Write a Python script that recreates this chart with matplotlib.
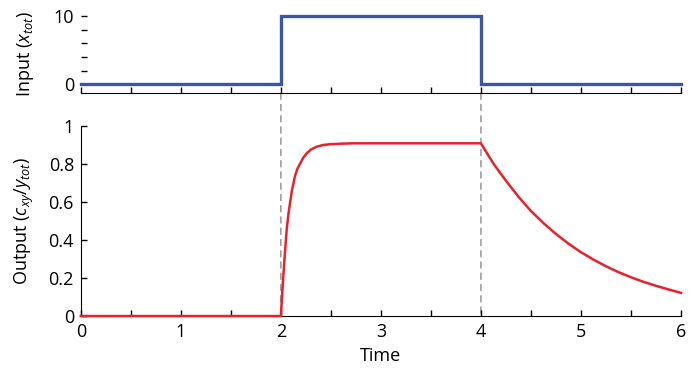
import matplotlib.pyplot as plt
from matplotlib.patches import ConnectionPatch
import numpy as np

plt.rcParams['font.family'] = ['Open Sans', 'DejaVu Sans']
plt.rcParams['font.size'] = 13
plt.rcParams['mathtext.fontset'] = 'custom'
plt.rcParams['mathtext.rm'] = 'Open Sans'
plt.rcParams['mathtext.it'] = 'Open Sans:italic'

# input step (x_tot)
input_t = [0, 2, 2, 4, 4, 6]
input_x = [0, 0, 10, 10, 0, 0]

# output c_xy / y_tot
out_t = [0, 2.0, 2.01, 2.023, 2.04, 2.057, 2.075, 2.09, 2.11, 2.14, 2.165,
         2.19, 2.22, 2.257, 2.3, 2.357, 2.42, 2.49, 2.6, 2.72, 4.0,
         4.125, 4.25, 4.375, 4.5, 4.625, 4.75, 4.875, 5.0, 5.125, 5.25,
         5.375, 5.5, 5.625, 5.75, 5.875, 6.0]
out_c = [0, 0, 0.09, 0.2, 0.33, 0.45, 0.535, 0.59, 0.66, 0.735, 0.775,
         0.80, 0.83, 0.856, 0.876, 0.891, 0.90, 0.904, 0.907, 0.909, 0.909,
         0.802, 0.712, 0.628, 0.553, 0.489, 0.432, 0.381, 0.336, 0.297, 0.262,
         0.231, 0.204, 0.180, 0.159, 0.140, 0.122]

switch_times = [2, 4]

blue = '#3a56a5'
red = '#e8212b'

fig = plt.figure(figsize=(6.91, 3.74), dpi=100)
ax1 = fig.add_axes([0.117, 0.751, 0.8685, 0.206])
ax2 = fig.add_axes([0.117, 0.155, 0.8685, 0.508])

for ax in (ax1, ax2):
    ax.set_facecolor('none')
    ax.spines['top'].set_visible(False)
    ax.spines['right'].set_visible(False)
    ax.tick_params(direction='in', length=4, width=1, pad=5)
    ax.set_xlim(0, 6)
    ax.set_xticks(np.arange(0, 6.01, 0.5))

# top: input
ax1.plot(input_t, input_x, color=blue, lw=2.4, clip_on=False, solid_joinstyle='miter')
ax1.spines['left'].set_visible(False)
ax1.set_ylim(-1.3, 10)
ax1.set_yticks([0, 2, 4, 6, 8, 10])
ax1.set_yticklabels(['0', '', '', '', '', '10'])
ax1.set_xticklabels([])
ax1.set_ylabel(r'Input ($x_{tot}$)', labelpad=6)

# bottom: output
ax2.plot(out_t, out_c, color=red, lw=1.8, clip_on=False, zorder=3)
ax2.set_ylim(0, 1)
ax2.set_yticks([0, 0.2, 0.4, 0.6, 0.8, 1])
ax2.set_yticklabels(['0', '0.2', '0.4', '0.6', '0.8', '1'])
ax2.set_xticklabels(['0', '', '1', '', '2', '', '3', '', '4', '', '5', '', '6'])
ax2.set_xlabel('Time', labelpad=4)
ax2.set_ylabel(r'Output ($c_{xy}/y_{tot}$)', labelpad=6)

# dashed guides through both panels
for ts in switch_times:
    con = ConnectionPatch(xyA=(ts, -1.3), coordsA=ax1.transData,
                          xyB=(ts, 0), coordsB=ax2.transData,
                          color='#808080', lw=0.9, linestyle=(0, (5, 4)), zorder=-1)
    fig.add_artist(con)

ax1.yaxis.set_label_coords(-0.075, 0.5)
ax2.yaxis.set_label_coords(-0.075, 0.5)

fig.savefig('out.png', dpi=100)
